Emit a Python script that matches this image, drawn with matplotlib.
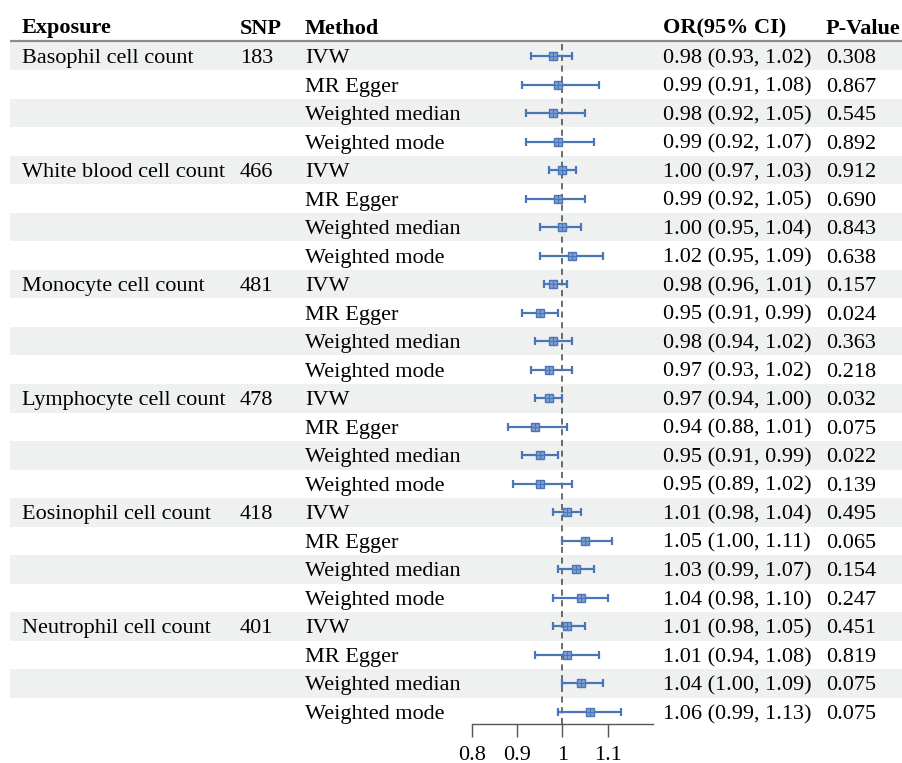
import matplotlib
matplotlib.use('Agg')
import matplotlib.pyplot as plt
from matplotlib.patches import Rectangle

exposures = ["Basophil cell count", "White blood cell count", "Monocyte cell count",
             "Lymphocyte cell count", "Eosinophil cell count", "Neutrophil cell count"]
snps = ["183", "466", "481", "478", "418", "401"]
methods = ["IVW", "MR Egger", "Weighted median", "Weighted mode"]

or_vals = [0.98, 0.99, 0.98, 0.99,
           1.00, 0.99, 1.00, 1.02,
           0.98, 0.95, 0.98, 0.97,
           0.97, 0.94, 0.95, 0.95,
           1.01, 1.05, 1.03, 1.04,
           1.01, 1.01, 1.04, 1.06]
ci_low = [0.93, 0.91, 0.92, 0.92,
          0.97, 0.92, 0.95, 0.95,
          0.96, 0.91, 0.94, 0.93,
          0.94, 0.88, 0.91, 0.89,
          0.98, 1.00, 0.99, 0.98,
          0.98, 0.94, 1.00, 0.99]
ci_high = [1.02, 1.08, 1.05, 1.07,
           1.03, 1.05, 1.04, 1.09,
           1.01, 0.99, 1.02, 1.02,
           1.00, 1.01, 0.99, 1.02,
           1.04, 1.11, 1.07, 1.10,
           1.05, 1.08, 1.09, 1.13]
pvals = ["0.308", "0.867", "0.545", "0.892",
         "0.912", "0.690", "0.843", "0.638",
         "0.157", "0.024", "0.363", "0.218",
         "0.032", "0.075", "0.022", "0.139",
         "0.495", "0.065", "0.154", "0.247",
         "0.451", "0.819", "0.075", "0.075"]
x_ticks = [0.8, 0.9, 1.0, 1.1]
x_ticklabels = ["0.8", "0.9", "1", "1.1"]

W, H = 903, 763
FONT = "Liberation Serif"
FS = 16
BLUE = "#4a76b8"

fig = plt.figure(figsize=(W / 100, H / 100), dpi=100)
bg = fig.add_axes([0, 0, 1, 1])
bg.set_xlim(0, W)
bg.set_ylim(H, 0)
bg.axis('off')

row0 = 56.0
rh = 28.52
n = len(or_vals)

for i in range(n):
    y = row0 + rh * i
    if i % 2 == 0:
        bg.add_patch(Rectangle((10, y - rh / 2), W - 10, rh, facecolor='#eef1f0', lw=0))

bg.plot([10, W], [row0 - rh / 2 - 0.5] * 2, color='#8c8c8c', lw=1.6, solid_capstyle='butt')

col_x = {"exp": 22, "snp": 240, "meth": 305, "or": 663, "p": 826}
hy = 26
for key, lab in [("exp", "Exposure"), ("snp", "SNP"), ("meth", "Method"),
                 ("or", "OR(95% CI)"), ("p", "P-Value")]:
    bg.text(col_x[key], hy, lab, fontsize=FS, fontweight='bold', family=FONT,
            ha='left', va='center_baseline')

for i in range(n):
    y = row0 + rh * i
    if i % 4 == 0:
        g = i // 4
        bg.text(col_x["exp"], y, exposures[g], fontsize=FS, family=FONT, ha='left', va='center_baseline')
        bg.text(col_x["snp"], y, snps[g], fontsize=FS, family=FONT, ha='left', va='center_baseline')
    bg.text(col_x["meth"], y, methods[i % 4], fontsize=FS, family=FONT, ha='left', va='center_baseline')
    bg.text(col_x["or"], y, f"{or_vals[i]:.2f} ({ci_low[i]:.2f}, {ci_high[i]:.2f})",
            fontsize=FS, family=FONT, ha='left', va='center_baseline')
    bg.text(col_x["p"], y, pvals[i], fontsize=FS, family=FONT, ha='left', va='center_baseline')

# forest axes
x_left, x_right = 472, 653
y_axis = 724
y_top = row0 - rh / 2
ax = fig.add_axes([x_left / W, 1 - y_axis / H, (x_right - x_left) / W, (y_axis - y_top) / H])
ax.set_xlim(0.8, 1.2)
ax.set_ylim((y_axis - row0) / rh, -0.5)
ax.patch.set_alpha(0)
for s in ['top', 'right', 'left']:
    ax.spines[s].set_visible(False)
ax.spines['bottom'].set_color('#555555')
ax.spines['bottom'].set_linewidth(1.0)
ax.set_yticks([])
ax.set_xticks(x_ticks)
ax.set_xticklabels(x_ticklabels, family=FONT, fontsize=FS)
ax.tick_params(axis='x', length=9.5, width=1.0, color='#555555', pad=6)

ax.axvline(1.0, color='#444444', lw=1.1, ls=(0, (4, 3)), zorder=1)

rows = list(range(n))
xerr = [[o - l for o, l in zip(or_vals, ci_low)], [h - o for o, h in zip(or_vals, ci_high)]]
ax.errorbar(or_vals, rows, xerr=xerr, fmt='none', ecolor=BLUE, elinewidth=1.6,
            capsize=2.8, capthick=1.6, zorder=3)
ax.plot(or_vals, rows, ls='none', marker='s', markersize=6.0, markerfacecolor='#7f9fd2',
        markeredgecolor=BLUE, markeredgewidth=1.0, zorder=4)
ax.plot(or_vals, rows, ls='none', marker='+', markersize=5.5, markeredgecolor=BLUE,
        markeredgewidth=0.8, zorder=5)

fig.savefig("out.png", dpi=100)
